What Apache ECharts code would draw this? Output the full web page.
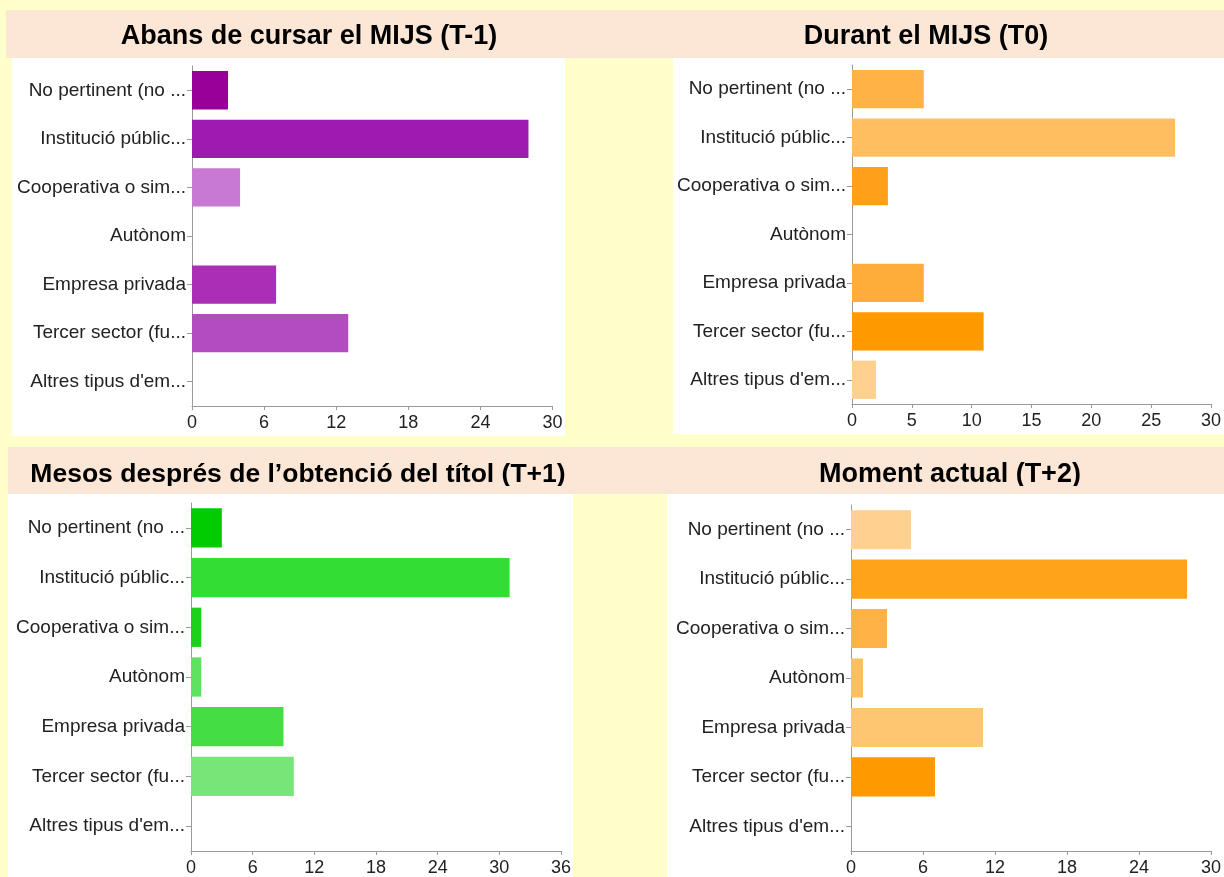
<!DOCTYPE html>
<html>
<head>
<meta charset="utf-8">
<script src="https://cdn.jsdelivr.net/npm/echarts@6/dist/echarts.min.js"></script>
<style>
html,body{margin:0;padding:0;background:#ffffcc;}
#chart{width:1224px;height:877px;}
</style>
</head>
<body>
<div id="chart"></div>
<script>
// ---- data ----
const categories = ["No pertinent (no ...", "Institució públic...", "Cooperativa o sim...", "Autònom", "Empresa privada", "Tercer sector (fu...", "Altres tipus d'em..."];
const titles = ["Abans de cursar el MIJS (T-1)", "Durant el MIJS (T0)", "Mesos després de l\u2019obtenció del títol (T+1)", "Moment actual (T+2)"];
const valuesT_1 = [3, 28, 4, 0, 7, 13, 0];
const valuesT0  = [6, 27, 3, 0, 6, 11, 2];
const valuesT1  = [3, 31, 1, 1, 9, 10, 0];
const valuesT2  = [5, 28, 3, 1, 11, 7, 0];
const axisMax = [30, 30, 36, 30];
const axisStep = [6, 5, 6, 6];

// ---- styles ----
const colorsT_1 = ["#990099", "#9f1ab1", "#c879d1", "#a62ab6", "#aa2eb6", "#b24cc0", "#c879d1"];
const colorsT0  = ["#ffb347", "#ffbf5f", "#ffa01a", "#ffad3a", "#ffad3a", "#ff9900", "#ffd08f"];
const colorsT1  = ["#00cc00", "#33dd33", "#1ad21a", "#5fe25f", "#44dd44", "#77e577", "#77e577"];
const colorsT2  = ["#ffd08f", "#ffa31a", "#ffb347", "#ffbf5f", "#ffc671", "#ff9900", "#ffd08f"];

const allValues = [valuesT_1, valuesT0, valuesT1, valuesT2];
const allColors = [colorsT_1, colorsT0, colorsT1, colorsT2];

const grids = [
  {left: 192, top: 66, width: 360.5, height: 340},
  {left: 852, top: 65, width: 360, height: 339},
  {left: 191, top: 503, width: 370, height: 349},
  {left: 851, top: 505, width: 367, height: 347}
];

const fontFam = 'Arial, "Liberation Sans", sans-serif';
const labelColor = '#222222';
const axisColor = '#9a9a9a';

const chart = echarts.init(document.getElementById('chart'), null, {renderer: 'canvas'});

const xAxes = [], yAxes = [], series = [];
for (let i = 0; i < 4; i++) {
  xAxes.push({
    type: 'value', gridIndex: i, min: 0, max: axisMax[i], interval: axisStep[i],
    axisLine: {show: true, lineStyle: {color: axisColor, width: 1}},
    axisTick: {show: true, length: 4, lineStyle: {color: axisColor}},
    splitLine: {show: false},
    axisLabel: {color: labelColor, fontSize: 18, fontFamily: fontFam, margin: 8, showMaxLabel: true, hideOverlap: false}
  });
  yAxes.push({
    type: 'category', gridIndex: i, data: categories, inverse: true,
    axisLine: {show: true, lineStyle: {color: axisColor, width: 1}},
    axisTick: {show: true, length: 5, alignWithLabel: true, lineStyle: {color: axisColor}},
    axisLabel: {color: labelColor, fontSize: 19, fontFamily: fontFam, margin: 6, interval: 0, padding: [6, 0, 0, 0]}
  });
  series.push({
    type: 'bar', xAxisIndex: i, yAxisIndex: i,
    barCategoryGap: '21%',
    data: allValues[i].map((v, k) => ({value: v, itemStyle: {color: allColors[i][k]}})),
    emphasis: {disabled: true},
    animation: false
  });
}

const bandColor = '#fce6d6';
const titleFont = 'bold 27px ' + fontFam;
const titleFont3 = 'bold 26.5px ' + fontFam;
const graphics = [
  // title bands
  {type: 'rect', z: -10, shape: {x: 6, y: 10, width: 1218, height: 48}, style: {fill: bandColor}},
  {type: 'rect', z: -10, shape: {x: 8, y: 447, width: 1216, height: 47}, style: {fill: bandColor}},
  // titles
  {type: 'text', z: -9, x: 309, y: 37, style: {text: titles[0], fill: '#000', font: titleFont, align: 'center', verticalAlign: 'middle'}},
  {type: 'text', z: -9, x: 926, y: 37, style: {text: titles[1], fill: '#000', font: titleFont, align: 'center', verticalAlign: 'middle'}},
  {type: 'text', z: -9, x: 298, y: 475, style: {text: titles[2], fill: '#000', font: titleFont3, align: 'center', verticalAlign: 'middle'}},
  {type: 'text', z: -9, x: 950, y: 475, style: {text: titles[3], fill: '#000', font: titleFont, align: 'center', verticalAlign: 'middle'}},
  // clip strip under bottom titles
  {type: 'rect', z: -8, shape: {x: 8, y: 486, width: 1216, height: 8}, style: {fill: bandColor}},
  // white plot panels
  {type: 'rect', z: -7, shape: {x: 12, y: 58, width: 553, height: 378}, style: {fill: '#ffffff'}},
  {type: 'rect', z: -7, shape: {x: 673, y: 58, width: 551, height: 376}, style: {fill: '#ffffff'}},
  {type: 'rect', z: -7, shape: {x: 8, y: 494, width: 565, height: 383}, style: {fill: '#ffffff'}},
  {type: 'rect', z: -7, shape: {x: 667, y: 494, width: 557, height: 383}, style: {fill: '#ffffff'}}
];

chart.setOption({
  backgroundColor: '#ffffcc',
  animation: false,
  grid: grids,
  xAxis: xAxes,
  yAxis: yAxes,
  series: series,
  graphic: graphics
});
</script>
</body>
</html>
